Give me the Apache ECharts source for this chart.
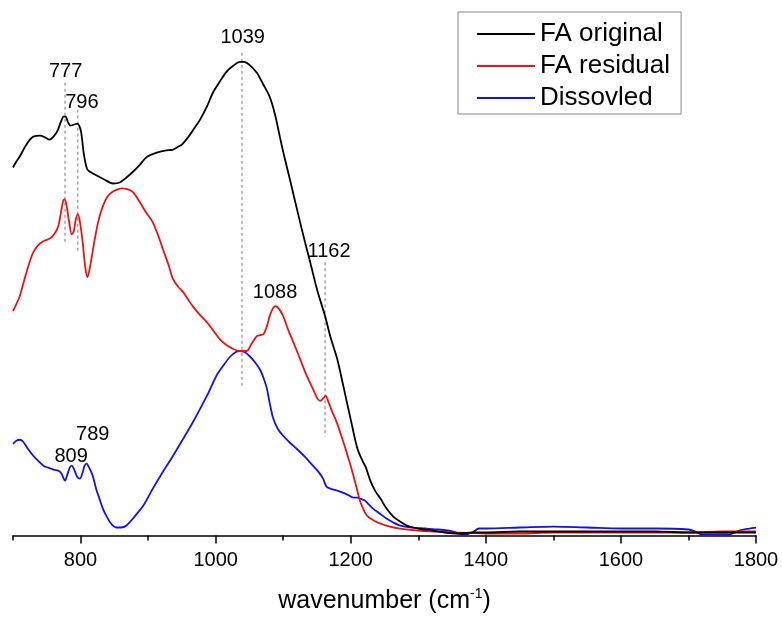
<!DOCTYPE html>
<html>
<head>
<meta charset="utf-8">
<script src="https://cdn.jsdelivr.net/npm/echarts@6/dist/echarts.min.js"></script>
<style>html,body{margin:0;padding:0;background:#fff}#c{width:782px;height:619px}</style>
</head>
<body>
<div id="c"></div>
<script>
// wavenumber (cm-1), intensity (arbitrary units)
const faOriginal = [[700,369],[705,375],[710,380],[718,390],[725,397],[730,400],[740,401],[748,399],[754,397],[760,400],[766,406],[771,415],[775,420],[778,420],[781,415],[785,411],[790,412],[795,413],[798,411],[801,404],[805,382],[810,367],[816,364],[824,361],[835,357],[848,353],[858,354],[868,359],[878,365],[888,372],[897,379],[905,382],[913,384],[925,386],[937,387],[945,390],[950,392],[960,400],[970,410],[977,417],[987,430],[996,444],[1006,455],[1016,465],[1026,471],[1036,475],[1042,475],[1050,472],[1061,464],[1070,453],[1080,440],[1088,422],[1095,400],[1102,379],[1110,357],[1117,337],[1124,317],[1132,295],[1140,274],[1150,247],[1162,220],[1170,199],[1180,177],[1190,147],[1203,107],[1210,87],[1218,74],[1222,69],[1229,55],[1236,45],[1244,37],[1253,27],[1263,19],[1273,14],[1283,10],[1300,7],[1320,5],[1340,3],[1360,2],[1380,3],[1400,3],[1450,4],[1500,4],[1550,4],[1600,4],[1650,4],[1700,3],[1750,3],[1800,3]];
const faResidual = [[700,225],[705,232],[710,240],[715,252],[720,264],[725,275],[730,284],[737,291],[745,295],[752,297],[757,299],[762,303],[767,310],[771,324],[774,335],[776,337],[779,332],[783,315],[787,302],[790,305],[793,317],[796,322],[799,315],[803,295],[807,269],[810,259],[814,269],[821,297],[827,317],[833,330],[840,340],[848,345],[855,347],[861,348],[870,347],[878,344],[888,334],[897,324],[907,314],[917,297],[922,287],[930,272],[937,257],[945,249],[952,244],[959,237],[966,230],[977,221],[987,214],[997,205],[1006,197],[1016,191],[1026,187],[1036,185],[1046,185],[1053,192],[1061,200],[1066,201],[1071,202],[1076,210],[1080,220],[1085,228],[1089,230],[1094,227],[1100,220],[1107,207],[1115,194],[1125,177],[1135,160],[1144,147],[1151,137],[1155,135],[1160,138],[1163,140],[1167,134],[1172,125],[1179,114],[1189,94],[1199,72],[1204,60],[1209,47],[1214,34],[1219,26],[1224,20],[1234,15],[1244,12],[1258,9],[1273,7],[1300,5],[1322,4],[1350,3],[1400,2],[1450,2],[1500,3],[1600,3],[1700,3],[1750,4],[1800,4]];
const dissolved = [[700,92],[705,95],[710,96],[715,94],[722,87],[730,80],[737,75],[745,70],[752,68],[760,66],[767,65],[772,62],[775,57],[777,55],[780,60],[784,68],[787,70],[790,67],[795,59],[799,57],[803,63],[806,70],[809,72],[812,69],[818,60],[823,47],[828,37],[833,27],[838,20],[845,12],[853,8],[860,8],[868,10],[880,19],[893,30],[907,47],[922,64],[937,80],[952,97],[965,112],[977,127],[990,144],[1001,160],[1012,171],[1021,179],[1030,184],[1036,185],[1043,184],[1050,180],[1058,174],[1066,166],[1072,156],[1076,147],[1080,133],[1085,118],[1092,107],[1100,100],[1110,93],[1120,87],[1132,79],[1144,70],[1152,64],[1159,57],[1164,49],[1170,47],[1184,44],[1195,41],[1204,38],[1210,38],[1214,37],[1218,36],[1221,35],[1227,31],[1233,27],[1243,22],[1253,17],[1263,13],[1273,10],[1290,8],[1310,7],[1330,6],[1352,4],[1360,2],[1370,1],[1380,3],[1390,7],[1400,7],[1450,8],[1500,9],[1550,8],[1600,7],[1650,7],[1700,6],[1710,4],[1720,1],[1740,1],[1760,1],[1775,5],[1790,7],[1800,8]];

const seriesNames = ['FA original', 'FA residual', 'Dissovled'];
const majorTicks = [800, 1000, 1200, 1400, 1600, 1800];
const minorTicks = [700, 900, 1100, 1300, 1500, 1700];
// reference lines: [wavenumber, from, to]
const refLines = [[777,454,292],[796,427,284],[1039,484,150],[1162,274,99]];
// peak labels: [wavenumber, height, text]
const peakLabels = [[778,465,'777'],[802,434,'796'],[1040,499,'1039'],[1168,285,'1162'],[1088,244,'1088'],[818,101,'789'],[786,79,'809']];

const colors = ['#000000', '#ee1111', '#1111ee'];
const FONT = 'Liberation Sans, Arial, sans-serif';

const chart = echarts.init(document.getElementById('c'), null, {renderer: 'canvas'});

const series = [
  {name: seriesNames[0], data: faOriginal},
  {name: seriesNames[1], data: faResidual},
  {name: seriesNames[2], data: dissolved}
].map((s, i) => ({
  type: 'line', name: s.name, data: s.data, symbol: 'none', smooth: 0.3,
  lineStyle: {color: colors[i], width: 1.8}, itemStyle: {color: colors[i]},
  z: 5 - i, animation: false
}));

refLines.forEach(r => {
  series.push({
    type: 'line', data: [[r[0], r[1]], [r[0], r[2]]], symbol: 'none', silent: true,
    lineStyle: {color: '#777', width: 1, type: [3, 3]}, z: 1, animation: false
  });
});

series.push({
  type: 'scatter', data: peakLabels.map(p => ({value: [p[0], p[1]], name: p[2]})),
  symbol: 'circle', symbolSize: 1, itemStyle: {color: '#ffffff', opacity: 1}, silent: true, animation: false,
  label: {show: true, position: 'inside', formatter: p => p.name, color: '#000', opacity: 1,
          textBorderWidth: 0, fontSize: 20, fontFamily: FONT},
  z: 10
});

chart.setOption({
  backgroundColor: '#fff',
  animation: false,
  grid: {left: 13, right: 26, top: 0, bottom: 82},
  legend: {
    data: seriesNames, orient: 'vertical', left: 458, top: 12,
    icon: 'rect', itemWidth: 58, itemHeight: 2, itemGap: 6,
    borderColor: '#888', borderWidth: 1, padding: [9, 11, 3, 19],
    textStyle: {fontSize: 26, fontFamily: FONT, color: '#000'}
  },
  xAxis: [{
    type: 'value', min: 700, max: 1800,
    axisLine: {show: true, lineStyle: {color: '#000', width: 1.5}},
    axisTick: {show: true, customValues: majorTicks, length: 8, inside: false, lineStyle: {color: '#000', width: 1.5}},
    axisLabel: {customValues: majorTicks, formatter: v => String(v), margin: 15, fontSize: 20, fontFamily: FONT, color: '#000'},
    splitLine: {show: false},
    name: '{a|wavenumber (cm}{s|-1}{a|)}', nameLocation: 'middle', nameGap: 52,
    nameTextStyle: {rich: {
      a: {fontSize: 25, fontFamily: FONT, color: '#000', lineHeight: 28},
      s: {fontSize: 14, fontFamily: FONT, color: '#000', verticalAlign: 'top', lineHeight: 28}
    }}
  }, {
    type: 'value', min: 700, max: 1800, position: 'bottom',
    axisLine: {show: false},
    axisTick: {show: true, customValues: minorTicks, length: 5, lineStyle: {color: '#000', width: 1.5}},
    axisLabel: {show: false}, splitLine: {show: false}
  }],
  yAxis: {type: 'value', min: 0, max: 537, show: false},
  series: series
});
</script>
</body>
</html>
